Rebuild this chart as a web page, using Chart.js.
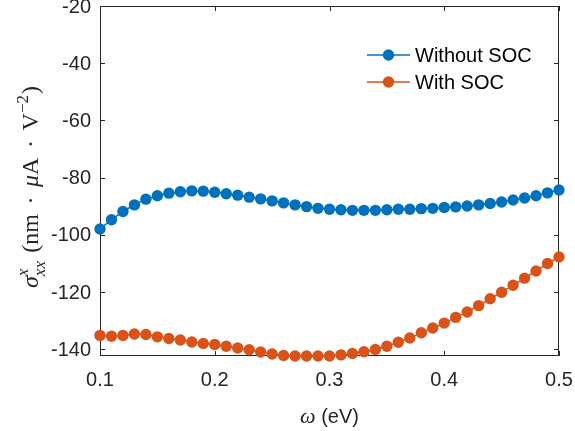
<!DOCTYPE html>
<html>
<head>
<meta charset="utf-8">
<script src="https://cdn.jsdelivr.net/npm/chart.js@4"></script>
<style>
  html, body { margin: 0; padding: 0; background: #fff; }
  canvas { display: block; }
</style>
</head>
<body>
<canvas id="chart" width="575" height="431"></canvas>
<script>
const omega = [0.10, 0.11, 0.12, 0.13, 0.14, 0.15, 0.16, 0.17, 0.18, 0.19,
               0.20, 0.21, 0.22, 0.23, 0.24, 0.25, 0.26, 0.27, 0.28, 0.29,
               0.30, 0.31, 0.32, 0.33, 0.34, 0.35, 0.36, 0.37, 0.38, 0.39,
               0.40, 0.41, 0.42, 0.43, 0.44, 0.45, 0.46, 0.47, 0.48, 0.49, 0.50];

const withoutSoc = [-97.9, -94.7, -91.8, -89.5, -87.5, -86.3, -85.4, -84.9, -84.6, -84.7,
                    -85.1, -85.6, -86.1, -86.8, -87.4, -88.1, -88.8, -89.5, -90.1, -90.7,
                    -91.0, -91.2, -91.4, -91.4, -91.4, -91.2, -91.0, -91.0, -90.8, -90.7,
                    -90.4, -90.2, -89.9, -89.5, -89.0, -88.5, -87.8, -87.1, -86.3, -85.3, -84.3];

const withSoc = [-135.1, -135.4, -135.1, -134.6, -134.8, -135.6, -136.2, -136.7, -137.4, -137.9,
                 -138.3, -138.9, -139.5, -140.1, -140.9, -141.6, -142.1, -142.3, -142.3, -142.3,
                 -142.3, -141.9, -141.4, -140.8, -140.0, -138.9, -137.5, -136.0, -134.2, -132.5,
                 -130.8, -128.8, -126.9, -124.7, -122.3, -120.0, -117.6, -115.1, -112.6, -110.0, -107.7];

const xTicks = [0.1, 0.2, 0.3, 0.4, 0.5];
const yTicks = [-140, -120, -100, -80, -60, -40, -20];

const AXIS_COLOR = "#262626";
const SANS = "'Liberation Sans', Arial, Helvetica, sans-serif";
const SERIF = "'Liberation Serif', 'DejaVu Serif', serif";

// box round the plot with inward ticks on all four sides
const axesBox = {
    id: "axesBox",
    beforeDatasetsDraw(chart) {
        const { ctx, chartArea: a, scales } = chart;
        const len = 5;
        ctx.save();
        ctx.strokeStyle = AXIS_COLOR;
        ctx.lineWidth = 1;
        ctx.beginPath();
        ctx.rect(a.left + 0.5, a.top + 0.5, a.right - a.left - 1, a.bottom - a.top - 1);
        xTicks.forEach(v => {
            const px = Math.round(scales.x.getPixelForValue(v)) + 0.5;
            ctx.moveTo(px, a.bottom);
            ctx.lineTo(px, a.bottom - len);
            ctx.moveTo(px, a.top);
            ctx.lineTo(px, a.top + len);
        });
        yTicks.forEach(v => {
            const py = Math.round(scales.y.getPixelForValue(v)) + 0.5;
            ctx.moveTo(a.left, py);
            ctx.lineTo(a.left + len, py);
            ctx.moveTo(a.right, py);
            ctx.lineTo(a.right - len, py);
        });
        ctx.stroke();
        ctx.restore();
    }
};

// axis titles with sub/superscripts
const axisTitles = {
    id: "axisTitles",
    afterDraw(chart) {
        const { ctx, chartArea: a } = chart;
        ctx.save();
        ctx.fillStyle = AXIS_COLOR;
        ctx.textBaseline = "alphabetic";

        // x title: omega (eV)
        const xParts = [
            { t: "\u03C9", f: "italic 22px " + SERIF },
            { t: " (eV)", f: "20px " + SANS }
        ];
        let w = 0;
        xParts.forEach(p => { ctx.font = p.f; p.w = ctx.measureText(p.t).width; w += p.w; });
        let x = (a.left + a.right) / 2 - w / 2;
        xParts.forEach(p => { ctx.font = p.f; ctx.fillText(p.t, x, 423); x += p.w; });

        // y title: sigma^x_xx (nm . muA . V^-2)
        const S = 24;
        const small = Math.round(S * 0.7);
        const gap = S * 0.4;
        const yParts = [
            { t: "\u03C3", f: "italic " + S + "px " + SERIF },
            { sup: "x", sub: "xx", f: "italic " + small + "px " + SERIF },
            { gap: S * 0.3 },
            { t: "(", f: S + "px " + SERIF },
            { t: "nm", f: S + "px " + SERIF },
            { gap }, { t: "\u00B7", f: S + "px " + SERIF }, { gap },
            { t: "\u03BC", f: "italic " + S + "px " + SERIF },
            { t: "A", f: S + "px " + SERIF },
            { gap }, { t: "\u00B7", f: S + "px " + SERIF }, { gap },
            { t: "V", f: S + "px " + SERIF },
            { sup: "\u22122", f: small + "px " + SERIF },
            { t: ")", f: S + "px " + SERIF }
        ];
        w = 0;
        yParts.forEach(p => {
            if (p.gap) { p.w = p.gap; }
            else if (p.sup) {
                ctx.font = p.f;
                p.w = Math.max(ctx.measureText(p.sup).width, p.sub ? ctx.measureText(p.sub).width : 0) + 1;
            } else { ctx.font = p.f; p.w = ctx.measureText(p.t).width; }
            w += p.w;
        });
        ctx.translate(38, 187);
        ctx.rotate(-Math.PI / 2);
        x = -w / 2;
        yParts.forEach(p => {
            if (p.gap) { x += p.w; return; }
            ctx.font = p.f;
            if (p.sup) {
                ctx.fillText(p.sup, x, -S * 0.42);
                if (p.sub) ctx.fillText(p.sub, x, S * 0.3);
            } else {
                ctx.fillText(p.t, x, 0);
            }
            x += p.w;
        });
        ctx.restore();
    }
};

// legend in the upper right, line with marker
const innerLegend = {
    id: "innerLegend",
    afterDraw(chart) {
        const { ctx } = chart;
        ctx.save();
        chart.data.datasets.forEach((ds, i) => {
            const y = 55 + i * 27;
            ctx.strokeStyle = ds.borderColor;
            ctx.lineWidth = ds.borderWidth;
            ctx.beginPath();
            ctx.moveTo(367, y);
            ctx.lineTo(410, y);
            ctx.stroke();
            ctx.fillStyle = ds.pointBackgroundColor;
            ctx.beginPath();
            ctx.arc(388.5, y, ds.pointRadius, 0, Math.PI * 2);
            ctx.fill();
            ctx.fillStyle = "#000";
            ctx.font = "20px " + SANS;
            ctx.textBaseline = "middle";
            ctx.fillText(ds.label, 415, y + 1);
        });
        ctx.restore();
    }
};

const makeSeries = (label, values, color) => ({
    label,
    data: omega.map((x, i) => ({ x, y: values[i] })),
    borderColor: color,
    backgroundColor: color,
    pointBackgroundColor: color,
    pointBorderWidth: 0,
    pointRadius: 5.7,
    borderWidth: 1.5,
    tension: 0,
    clip: false
});

const ctx = document.getElementById("chart").getContext("2d");

new Chart(ctx, {
    type: "line",
    data: {
        datasets: [
            makeSeries("Without SOC", withoutSoc, "#0072BD"),
            makeSeries("With SOC", withSoc, "#D95319")
        ]
    },
    options: {
        responsive: false,
        animation: false,
        events: [],
        layout: {
            padding: { top: 6, right: 16, left: 0, bottom: 0 }
        },
        plugins: {
            legend: { display: false },
            tooltip: { enabled: false }
        },
        scales: {
            x: {
                type: "linear",
                min: 0.1,
                max: 0.5,
                afterBuildTicks: scale => { scale.ticks = xTicks.map(value => ({ value })); },
                afterFit: scale => {
                    scale.height = 75;
                    scale.paddingLeft = 0;
                    scale.paddingRight = 0;
                },
                grid: { display: false, drawTicks: false },
                border: { display: false },
                ticks: {
                    padding: 12,
                    color: AXIS_COLOR,
                    font: { family: SANS, size: 20 },
                    callback: v => v.toFixed(1)
                }
            },
            y: {
                type: "linear",
                min: -142.3,
                max: -20,
                afterBuildTicks: scale => { scale.ticks = yTicks.map(value => ({ value })); },
                afterFit: scale => {
                    scale.width = 100;
                    scale.paddingTop = 0;
                    scale.paddingBottom = 0;
                },
                grid: { display: false, drawTicks: false },
                border: { display: false },
                ticks: {
                    padding: 9,
                    labelOffset: 1,
                    color: AXIS_COLOR,
                    font: { family: SANS, size: 20 },
                    callback: v => String(v)
                }
            }
        }
    },
    plugins: [axesBox, axisTitles, innerLegend]
});
</script>
</body>
</html>
